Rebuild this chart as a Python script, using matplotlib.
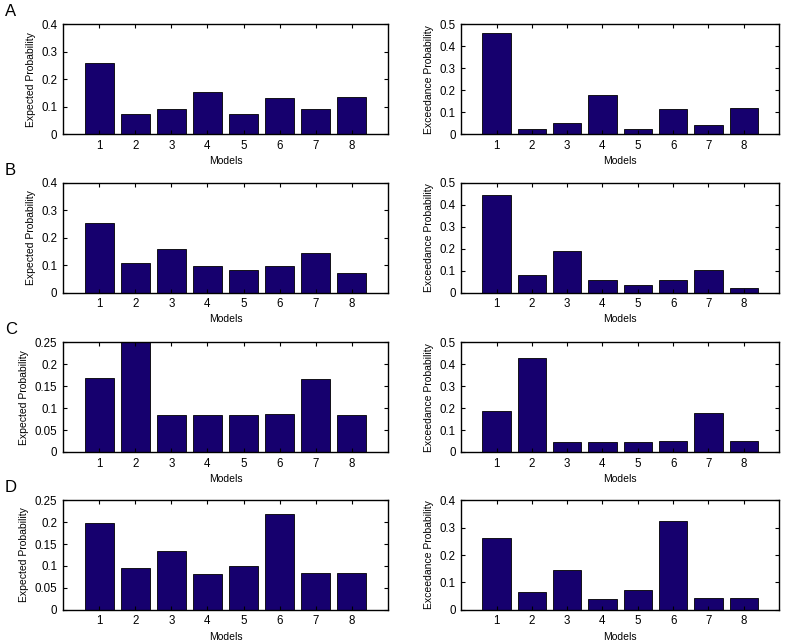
import matplotlib
matplotlib.use('Agg')
import matplotlib.pyplot as plt
import numpy as np

models = [1, 2, 3, 4, 5, 6, 7, 8]
panel_labels = ['A', 'B', 'C', 'D']

# expected probabilities (left column)
exp_A = [0.261, 0.073, 0.093, 0.152, 0.072, 0.132, 0.091, 0.137]
exp_B = [0.253, 0.108, 0.159, 0.096, 0.083, 0.099, 0.145, 0.073]
exp_C = [0.169, 0.250, 0.085, 0.084, 0.085, 0.086, 0.166, 0.085]
exp_D = [0.197, 0.096, 0.135, 0.081, 0.101, 0.219, 0.083, 0.083]

# exceedance probabilities (right column)
exc_A = [0.462, 0.023, 0.050, 0.180, 0.024, 0.114, 0.042, 0.117]
exc_B = [0.444, 0.079, 0.190, 0.056, 0.035, 0.060, 0.103, 0.021]
exc_C = [0.185, 0.429, 0.047, 0.044, 0.044, 0.048, 0.176, 0.048]
exc_D = [0.263, 0.065, 0.147, 0.041, 0.071, 0.324, 0.043, 0.042]

exp_ylims = [0.4, 0.4, 0.25, 0.25]
exc_ylims = [0.5, 0.5, 0.5, 0.4]
exp_yticks = [[0, 0.1, 0.2, 0.3, 0.4], [0, 0.1, 0.2, 0.3, 0.4],
              [0, 0.05, 0.1, 0.15, 0.2, 0.25], [0, 0.05, 0.1, 0.15, 0.2, 0.25]]
exc_yticks = [[0, 0.1, 0.2, 0.3, 0.4, 0.5], [0, 0.1, 0.2, 0.3, 0.4, 0.5],
              [0, 0.1, 0.2, 0.3, 0.4, 0.5], [0, 0.1, 0.2, 0.3, 0.4]]

plt.rcParams['font.family'] = ['Liberation Sans', 'DejaVu Sans']
plt.rcParams['font.size'] = 7.5

bar_color = '#16006e'

fig = plt.figure(figsize=(7.87, 6.42), dpi=100)

bottoms = [0.791, 0.544, 0.296, 0.050]
h = 0.171


def draw(ax, vals, ymax, yticks, ylabel):
    ax.bar(models, vals, width=0.8, color=bar_color, edgecolor='black', linewidth=0.6)
    ax.set_xlim(0, 9)
    ax.set_ylim(0, ymax)
    ax.set_xticks(models)
    ax.set_yticks(yticks)
    ax.set_yticklabels(['%g' % v for v in yticks])
    ax.tick_params(direction='in', top=True, right=True, length=3, width=0.8,
                   labelsize=8.3, pad=4)
    for s in ax.spines.values():
        s.set_linewidth(1.0)
    ax.set_xlabel('Models', fontsize=7.5, labelpad=3)
    ax.set_ylabel(ylabel, fontsize=7.5, labelpad=4)


exp_all = [exp_A, exp_B, exp_C, exp_D]
exc_all = [exc_A, exc_B, exc_C, exc_D]

for i in range(4):
    ax1 = fig.add_axes([0.080, bottoms[i], 0.413, h])
    draw(ax1, exp_all[i], exp_ylims[i], exp_yticks[i], 'Expected Probability')
    ax2 = fig.add_axes([0.586, bottoms[i], 0.404, h])
    draw(ax2, exc_all[i], exc_ylims[i], exc_yticks[i], 'Exceedance Probability')
    # panel letter
    fig.text(0.006, bottoms[i] + h + 0.020, panel_labels[i], fontsize=12,
             ha='left', va='center')

fig.savefig('out.png', dpi=100)
